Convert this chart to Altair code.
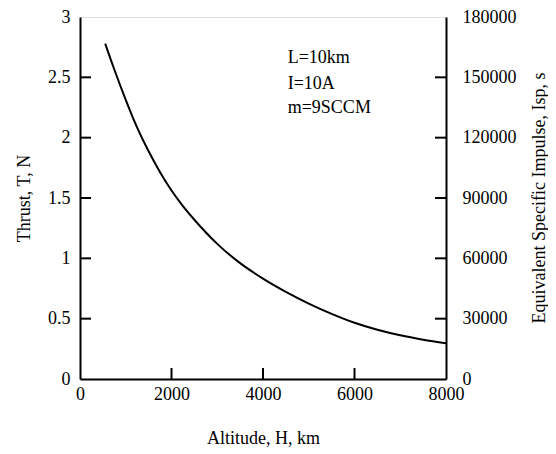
import altair as alt
import pandas as pd

altitude = [550, 750, 1000, 1250, 1500, 1750, 2000, 2250, 2500, 3000, 3500, 4000,
            4500, 5000, 5500, 6000, 6500, 7000, 7500, 8000]
thrust = [2.78, 2.565, 2.314, 2.083, 1.887, 1.714, 1.562, 1.433, 1.320, 1.120, 0.960,
          0.832, 0.722, 0.625, 0.540, 0.466, 0.408, 0.362, 0.326, 0.297]

left_ticks = [0.5, 1.0, 1.5, 2.0, 2.5]
bottom_ticks = [2000, 4000, 6000]
right_ticks = [30000, 60000, 90000, 120000, 150000]

notes = ["L=10km", "I=10A", "m=9SCCM"]
note_x = [4540, 4540, 4540]
note_y = [2.657, 2.443, 2.245]

FONT = "Liberation Serif"
W, H = 366, 362

curve = pd.DataFrame({"H": altitude, "T": thrust})

xscale = alt.Scale(domain=[0, 8000], nice=False)
yscale = alt.Scale(domain=[0, 3], nice=False)
iscale = alt.Scale(domain=[0, 180000], nice=False)

common = dict(ticks=False, domain=True, domainColor="black", domainWidth=2,
              grid=False, labelFont=FONT, labelFontSize=18, labelColor="black",
              titleFont=FONT, titleFontSize=18, titleFontWeight="normal",
              titleColor="black", labelFlush=False, zindex=0)

xaxis = alt.Axis(values=[0, 2000, 4000, 6000, 8000], labelPadding=6, format="d",
                 title="Altitude, H, km", titlePadding=26, **common)
yaxis = alt.Axis(values=[0, 0.5, 1, 1.5, 2, 2.5, 3], labelPadding=10, format="~g",
                 title="Thrust, T, N", titlePadding=14, **common)
iaxis = alt.Axis(orient="right", values=[0, 30000, 60000, 90000, 120000, 150000, 180000],
                 labelPadding=16, title=None, format="d", **common)

line = alt.Chart(curve).mark_line(color="black", strokeWidth=2, interpolate="monotone").encode(
    x=alt.X("H:Q", scale=xscale, axis=xaxis),
    y=alt.Y("T:Q", scale=yscale, axis=yaxis),
)

txt = alt.Chart(pd.DataFrame({"t": notes, "H": note_x, "T": note_y})).mark_text(
    font=FONT, fontSize=18, align="left", baseline="middle", color="black").encode(
    x=alt.X("H:Q", scale=xscale),
    y=alt.Y("T:Q", scale=yscale), text="t:N")

lt = alt.Chart(pd.DataFrame({"T": left_ticks})).mark_rule(
    color="black", strokeWidth=2).encode(
    y=alt.Y("T:Q", scale=yscale), x=alt.value(0), x2=alt.value(11))

bt = alt.Chart(pd.DataFrame({"H": bottom_ticks})).mark_rule(
    color="black", strokeWidth=2).encode(
    x=alt.X("H:Q", scale=xscale), y=alt.value(H - 11), y2=alt.value(H))

left = alt.layer(line, txt, lt, bt)

rt = alt.Chart(pd.DataFrame({"Isp": right_ticks})).mark_rule(
    color="black", strokeWidth=2).encode(
    y=alt.Y("Isp:Q", scale=iscale, axis=iaxis), x=alt.value(W - 11), x2=alt.value(W))

rtitle = alt.Chart(pd.DataFrame({"t": ["Equivalent Specific Impulse, Isp, s"]})).mark_text(
    font=FONT, fontSize=18, angle=270, align="center", baseline="middle", color="black").encode(
    text="t:N", x=alt.value(W + 94), y=alt.value(H / 2))

right = alt.layer(rt, rtitle)

chart = alt.layer(left, right).resolve_scale(y="independent").properties(
    width=W, height=H,
    autosize=alt.AutoSizeParams(type="none"),
    padding={"left": 72, "top": 9, "right": 102, "bottom": 70},
).configure_view(stroke="#000000", strokeWidth=2, strokeOpacity=1).configure(background="white")

chart.save("out.html", embed_options={"renderer": "svg", "actions": False})
